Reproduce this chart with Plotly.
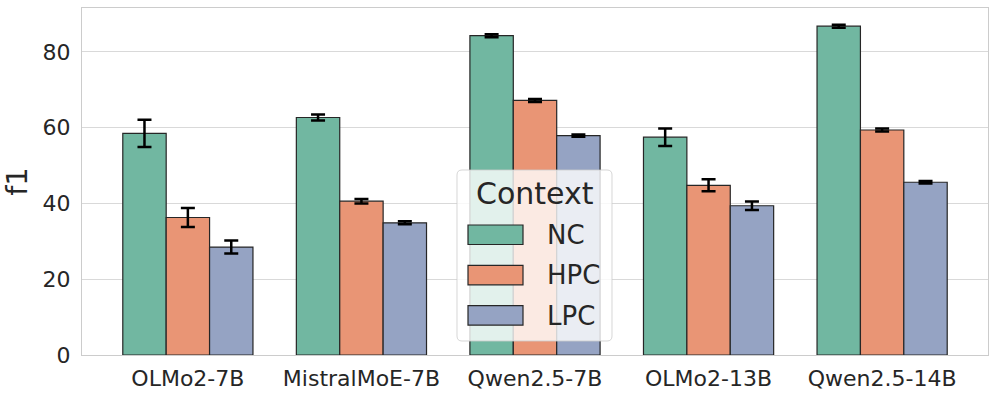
import plotly.graph_objects as go

models = ["OLMo2-7B", "MistralMoE-7B", "Qwen2.5-7B", "OLMo2-13B", "Qwen2.5-14B"]
nc = [58.5, 62.7, 84.3, 57.5, 86.8]
nc_err = [3.6, 0.8, 0.4, 2.3, 0.4]
hpc = [36.3, 40.6, 67.2, 44.8, 59.4]
hpc_err = [2.5, 0.6, 0.4, 1.6, 0.4]
lpc = [28.5, 34.9, 57.9, 39.4, 45.6]
lpc_err = [1.7, 0.4, 0.3, 1.1, 0.3]

series = [("NC", nc, nc_err, "#71b7a1"),
          ("HPC", hpc, hpc_err, "#e99575"),
          ("LPC", lpc, lpc_err, "#95a3c3")]

FONT = "DejaVu Sans"
TXT = "#262626"
W, H = 997, 397
ML, MR, MT, MB = 82, 9, 8, 42
PW, PH = W - ML - MR, H - MT - MB

def px(x):
    return (x - ML) / PW

def py(y):
    return (H - MB - y) / PH

fig = go.Figure()
for name, vals, errs, col in series:
    fig.add_trace(go.Bar(
        x=models, y=vals, name=name, showlegend=False,
        marker=dict(color=col, line=dict(color=TXT, width=1.2)),
        error_y=dict(type="data", array=errs, visible=True,
                     color="black", thickness=2.5, width=7),
    ))

# manual legend (matplotlib-style)
bx0, bx1, by0, by1, r = 457, 612, 170, 341, 5
rx, ry = r / PW, r / PH
X0, X1, Y0, Y1 = px(bx0), px(bx1), py(by1), py(by0)
path = (f"M {X0+rx},{Y0} L {X1-rx},{Y0} Q {X1},{Y0} {X1},{Y0+ry} "
        f"L {X1},{Y1-ry} Q {X1},{Y1} {X1-rx},{Y1} L {X0+rx},{Y1} "
        f"Q {X0},{Y1} {X0},{Y1-ry} L {X0},{Y0+ry} Q {X0},{Y0} {X0+rx},{Y0} Z")
shapes = [dict(type="path", path=path, xref="paper", yref="paper",
               fillcolor="rgba(255,255,255,0.8)",
               line=dict(color="rgba(204,204,204,0.8)", width=1), layer="above")]
annotations = [dict(text="Context", x=px(535), y=py(193), xref="paper", yref="paper",
                    showarrow=False, xanchor="center", yanchor="middle",
                    font=dict(family=FONT, size=30, color=TXT))]
for i, (name, _, _, col) in enumerate(series):
    top = 225 + i * 40.3
    shapes.append(dict(type="rect", xref="paper", yref="paper",
                       x0=px(468), x1=px(523), y0=py(top + 19.5), y1=py(top),
                       fillcolor=col, line=dict(color=TXT, width=1.2), layer="above"))
    annotations.append(dict(text=name, x=px(545), y=py(top + 10), xref="paper", yref="paper",
                            showarrow=False, xanchor="left", yanchor="middle",
                            font=dict(family=FONT, size=26, color=TXT)))

fig.update_layout(
    width=W, height=H,
    margin=dict(l=ML, r=MR, t=MT, b=MB),
    barmode="group", bargap=0.25, bargroupgap=0,
    plot_bgcolor="white", paper_bgcolor="white",
    font=dict(family=FONT, size=22, color=TXT),
    showlegend=False, shapes=shapes, annotations=annotations,
)
fig.update_xaxes(
    range=[-0.61, 4.61], showgrid=False, automargin=False,
    showline=True, mirror=True, linecolor="#cccccc", linewidth=1.2,
    tickfont=dict(size=22), ticks="outside", ticklen=3, tickcolor="rgba(0,0,0,0)",
)
fig.update_yaxes(
    range=[0, 91.6], tickvals=[0, 20, 40, 60, 80], automargin=False,
    showgrid=True, gridcolor="#d9d9d9", gridwidth=1.2,
    showline=True, mirror=True, linecolor="#cccccc", linewidth=1.2,
    zeroline=False,
    tickfont=dict(size=22), ticks="outside", ticklen=6, tickcolor="rgba(0,0,0,0)",
    title=dict(text="f1", font=dict(size=29), standoff=10),
)

fig.write_html("out.html", config={"displayModeBar": False},
               post_script="document.body.style.margin='0';document.body.style.overflow='hidden';")
